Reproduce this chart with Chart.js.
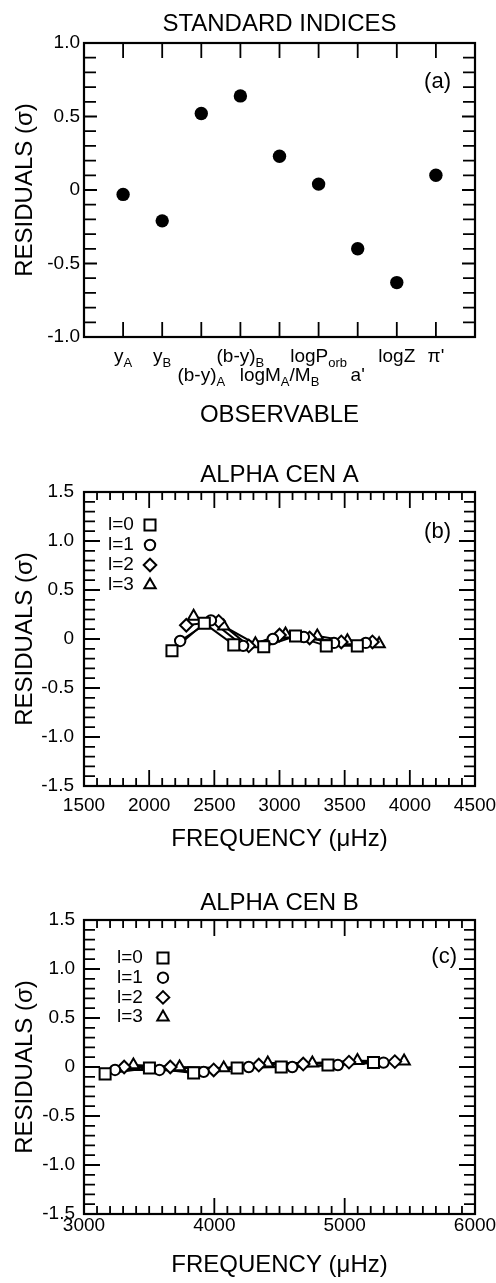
<!DOCTYPE html>
<html><head><meta charset="utf-8">
<script src="https://cdn.jsdelivr.net/npm/chart.js@4.4.1/dist/chart.umd.min.js"></script>
<style>
html,body{margin:0;padding:0;background:#fff;}
.panel{position:absolute;left:0;width:496px;}
canvas{display:block;}
</style></head><body>
<div class="panel" style="top:0;height:440px"><canvas id="ca" width="496" height="440"></canvas></div>
<div class="panel" style="top:440px;height:420px"><canvas id="cb" width="496" height="420"></canvas></div>
<div class="panel" style="top:860px;height:423px"><canvas id="cc" width="496" height="423"></canvas></div>
<script>
// ---------------- DATA ----------------
// Panel (a): standard indices
const observables = ['y_A', 'y_B', '(b-y)_A', '(b-y)_B', 'logM_A/M_B', 'logP_{orb}', "a'", 'logZ', "\u03c0'"];
const standardResiduals = [-0.03, -0.21, 0.52, 0.64, 0.23, 0.04, -0.40, -0.63, 0.10];

// Degree labels
const degreeLabels = ['l=0', 'l=1', 'l=2', 'l=3'];

// Panel (b): Alpha Cen A  (frequency in microHz, residual in sigma)
const freqA_l0 = [2175, 2423, 2649, 2879, 3123, 3359, 3597];
const resA_l0  = [-0.12, 0.16, -0.06, -0.08, 0.03, -0.07, -0.07];
const freqA_l1 = [2238, 2474, 2721, 2949, 3187, 3418, 3662];
const resA_l1  = [-0.02, 0.19, -0.07, 0.00, 0.02, -0.04, -0.04];
const freqA_l2 = [2285, 2533, 2764, 3000, 3231, 3474, 3713];
const resA_l2  = [0.14, 0.18, -0.07, 0.04, 0.01, -0.03, -0.03];
const freqA_l3 = [2341, 2572, 2815, 3046, 3290, 3521, 3764];
const resA_l3  = [0.23, 0.13, -0.05, 0.05, 0.03, -0.02, -0.05];

// Panel (c): Alpha Cen B
const freqB_l0 = [3162, 3502, 3841, 4175, 4513, 4872, 5221];
const resB_l0  = [-0.07, -0.01, -0.06, -0.01, 0.00, 0.02, 0.045];
const freqB_l1 = [3238, 3579, 3918, 4264, 4598, 4948, 5298];
const resB_l1  = [-0.03, -0.03, -0.05, 0.00, 0.00, 0.02, 0.045];
const freqB_l2 = [3308, 3662, 3995, 4341, 4682, 5033, 5385];
const resB_l2  = [0.00, 0.00, -0.03, 0.02, 0.03, 0.05, 0.055];
const freqB_l3 = [3379, 3733, 4072, 4410, 4752, 5098, 5456];
const resB_l3  = [0.02, 0.00, -0.01, 0.04, 0.04, 0.065, 0.06];

// ---------------- STYLE ----------------
const FONT = '"Liberation Sans", Arial, Helvetica, sans-serif';
Chart.defaults.font.family = FONT;
Chart.defaults.color = '#000';
const TITLE_SIZE = 24, TICK_SIZE = 19;
const MARK_BW = 2;
const markerStyles = [
  {style: 'rect', r: 7.8},
  {style: 'circle', r: 5.2},
  {style: 'rectRot', r: 6.3},
  {style: 'triangle', r: 6.6}
];

function makeTicks(min, max, step, majorEvery, minLen, majLen) {
  const out = [];
  const n0 = Math.round(min / step), n1 = Math.round(max / step);
  for (let i = n0; i <= n1; i++) out.push({v: i * step, len: (i % majorEvery === 0) ? majLen : minLen});
  return out;
}

function drawShape(ctx, style, r, x, y) {
  ctx.beginPath();
  if (style === 'circle') ctx.arc(x, y, r, 0, Math.PI * 2);
  else if (style === 'rect') { const s = Math.SQRT1_2 * r; ctx.rect(x - s, y - s, 2 * s, 2 * s); }
  else if (style === 'rectRot') { ctx.moveTo(x - r, y); ctx.lineTo(x, y - r); ctx.lineTo(x + r, y); ctx.lineTo(x, y + r); ctx.closePath(); }
  else if (style === 'triangle') { ctx.moveTo(x, y - r); ctx.lineTo(x + 0.866 * r, y + 0.5 * r); ctx.lineTo(x - 0.866 * r, y + 0.5 * r); ctx.closePath(); }
  ctx.fill(); ctx.stroke();
}

// frame + inward ticks + panel tag + optional legend
const framePlugin = {
  id: 'frame',
  afterDatasetsDraw(chart, args, o) {
    const {ctx, chartArea: a} = chart;
    const xs = chart.scales.x, ys = chart.scales.y;
    ctx.save();
    ctx.strokeStyle = '#000';
    ctx.lineWidth = 1.8;
    ctx.beginPath();
    o.xTicks.forEach(t => {
      const px = xs.getPixelForValue(t.v);
      ctx.moveTo(px, a.top); ctx.lineTo(px, a.top + t.len);
      ctx.moveTo(px, a.bottom); ctx.lineTo(px, a.bottom - t.len);
    });
    o.yTicks.forEach(t => {
      const py = ys.getPixelForValue(t.v);
      ctx.moveTo(a.left, py); ctx.lineTo(a.left + t.len, py);
      ctx.moveTo(a.right, py); ctx.lineTo(a.right - t.len, py);
    });
    ctx.stroke();
    ctx.lineWidth = 2.2;
    ctx.strokeRect(a.left, a.top, a.right - a.left, a.bottom - a.top);
    // panel tag
    ctx.fillStyle = '#000';
    ctx.font = '22px ' + FONT;
    ctx.textAlign = 'right';
    ctx.textBaseline = 'middle';
    ctx.fillText(o.tag, a.right - o.tagDx, a.top + o.tagDy);
    // legend
    if (o.legend) {
      const L = o.legend;
      let k = 0;
      chart.data.datasets.forEach(ds => {
        if (ds.legendSkip) return;
        const y = a.top + L.dy + k * L.gap;
        ctx.fillStyle = '#000';
        ctx.font = '19px ' + FONT;
        ctx.textAlign = 'left';
        ctx.textBaseline = 'middle';
        ctx.fillText(ds.label, a.left + L.textDx, y);
        ctx.fillStyle = '#fff';
        ctx.strokeStyle = '#000';
        ctx.lineWidth = MARK_BW;
        drawShape(ctx, ds.pointStyle, ds.pointRadius, a.left + L.symDx, y);
        k++;
      });
    }
    ctx.restore();
  }
};

function parseSub(s) {
  const segs = []; let i = 0, buf = '';
  while (i < s.length) {
    if (s[i] === '_') {
      if (buf) { segs.push({t: buf, sub: false}); buf = ''; }
      if (s[i + 1] === '{') { const j = s.indexOf('}', i); segs.push({t: s.slice(i + 2, j), sub: true}); i = j + 1; }
      else { segs.push({t: s[i + 1], sub: true}); i += 2; }
    } else { buf += s[i]; i++; }
  }
  if (buf) segs.push({t: buf, sub: false});
  return segs;
}

// category labels with subscripts for panel (a)
const obsLabelPlugin = {
  id: 'obsLabels',
  afterDraw(chart, args, o) {
    if (!o.labels) return;
    const {ctx, chartArea: a} = chart;
    const xs = chart.scales.x;
    ctx.save();
    ctx.fillStyle = '#000';
    ctx.textBaseline = 'alphabetic';
    ctx.textAlign = 'left';
    o.labels.forEach((lab, i) => {
      const segs = parseSub(lab);
      let w = 0;
      segs.forEach(s => { ctx.font = (s.sub ? o.subSize : o.size) + 'px ' + FONT; s.w = ctx.measureText(s.t).width; w += s.w; });
      let x = xs.getPixelForValue(i + 1) - w / 2;
      const yb = a.bottom + o.baselines[o.rows[i]];
      segs.forEach(s => {
        ctx.font = (s.sub ? o.subSize : o.size) + 'px ' + FONT;
        ctx.fillText(s.t, x, yb + (s.sub ? o.subShift : 0));
        x += s.w;
      });
    });
    ctx.restore();
  }
};

const fmtRes = v => (Math.abs(v) < 1e-9 ? '0' : v.toFixed(1));
const fmtFreq = v => String(Math.round(v));

function yAxis(min, max, pad) {
  return {
    type: 'linear', position: 'left', min, max,
    ticks: {stepSize: 0.5, callback: fmtRes, font: {size: TICK_SIZE}, color: '#000', padding: pad},
    grid: {display: false, drawTicks: false}, border: {display: false},
    title: {display: true, text: 'RESIDUALS (\u03c3)', font: {size: TITLE_SIZE}, color: '#000', padding: {top: 11, bottom: 0}},
    afterFit: s => { s.width = 84; s.paddingTop = 0; s.paddingBottom = 0; }
  };
}
function topAxis(text, h, pt) {
  return {
    type: 'linear', position: 'top', display: true,
    ticks: {display: false}, grid: {display: false, drawTicks: false}, border: {display: false},
    title: {display: true, text, font: {size: TITLE_SIZE}, color: '#000', padding: {top: pt, bottom: 0}},
    afterFit: s => { s.height = h; s.paddingLeft = 0; s.paddingRight = 0; }
  };
}
function bottomAxis(text, min, max, step, showTicks, tickPad, h, pb) {
  return {
    type: 'linear', position: 'bottom', min, max,
    ticks: {display: showTicks, stepSize: step, callback: fmtFreq, font: {size: TICK_SIZE}, color: '#000', padding: tickPad, maxRotation: 0, autoSkip: false},
    grid: {display: false, drawTicks: false}, border: {display: false},
    title: {display: true, text, font: {size: TITLE_SIZE}, color: '#000', padding: {top: 0, bottom: pb}},
    afterFit: s => { s.height = h; s.paddingLeft = 0; s.paddingRight = 0; }
  };
}

function seriesDatasets(freqs, ress) {
  const pts = k => freqs[k].map((x, i) => ({x, y: ress[k][i]}));
  const lines = freqs.map((f, k) => ({
    label: degreeLabels[k], data: pts(k), showLine: true, pointRadius: 0,
    borderColor: '#000', borderWidth: 2, order: 2, legendSkip: true
  }));
  const marks = freqs.map((f, k) => ({
    label: degreeLabels[k], data: pts(k), showLine: false,
    pointStyle: markerStyles[k].style, pointRadius: markerStyles[k].r,
    pointBorderWidth: MARK_BW, pointBackgroundColor: '#fff', pointBorderColor: '#000', order: 1
  }));
  return lines.concat(marks);
}

const common = {responsive: false, animation: false, events: []};

// ---------------- PANEL (a) ----------------
new Chart(document.getElementById('ca'), {
  type: 'scatter',
  data: {datasets: [{
    label: 'residuals',
    data: standardResiduals.map((v, i) => ({x: i + 1, y: v})),
    pointRadius: 6.7, pointBorderWidth: 0, pointBackgroundColor: '#000', pointStyle: 'circle'
  }]},
  options: Object.assign({}, common, {
    layout: {padding: {left: 0, right: 21, top: 0, bottom: 0}},
    plugins: {
      legend: {display: false}, tooltip: {enabled: false},
      frame: {xTicks: standardResiduals.map((v, i) => ({v: i + 1, len: 15})), yTicks: makeTicks(-1, 1, 0.1, 5, 12, 13), tag: '(a)', tagDx: 24, tagDy: 39},
      obsLabels: {labels: observables, rows: [0, 0, 1, 0, 1, 0, 1, 0, 0], baselines: [25, 44], size: 19, subSize: 13, subShift: 5}
    },
    scales: {
      x: bottomAxis('OBSERVABLE', 0, 10, 1, false, 0, 103, 10),
      x2: topAxis('STANDARD INDICES', 43, 10),
      y: yAxis(-1, 1, 4)
    }
  }),
  plugins: [framePlugin, obsLabelPlugin]
});

// ---------------- PANEL (b) ----------------
new Chart(document.getElementById('cb'), {
  type: 'scatter',
  data: {datasets: seriesDatasets([freqA_l0, freqA_l1, freqA_l2, freqA_l3], [resA_l0, resA_l1, resA_l2, resA_l3])},
  options: Object.assign({}, common, {
    layout: {padding: {left: 0, right: 21, top: 0, bottom: 0}},
    plugins: {
      legend: {display: false}, tooltip: {enabled: false},
      frame: {xTicks: makeTicks(1500, 4500, 100, 5, 8, 16), yTicks: makeTicks(-1.5, 1.5, 0.1, 5, 11, 16), tag: '(b)', tagDx: 24, tagDy: 40,
              legend: {textDx: 24, symDx: 66, dy: 33, gap: 20}}
    },
    scales: {
      x: bottomAxis('FREQUENCY (\u03bcHz)', 1500, 4500, 500, true, 8, 74, 6),
      x2: topAxis('ALPHA CEN A', 52, 21),
      y: yAxis(-1.5, 1.5, 10)
    }
  }),
  plugins: [framePlugin]
});

// ---------------- PANEL (c) ----------------
new Chart(document.getElementById('cc'), {
  type: 'scatter',
  data: {datasets: seriesDatasets([freqB_l0, freqB_l1, freqB_l2, freqB_l3], [resB_l0, resB_l1, resB_l2, resB_l3])},
  options: Object.assign({}, common, {
    layout: {padding: {left: 0, right: 21, top: 0, bottom: 0}},
    plugins: {
      legend: {display: false}, tooltip: {enabled: false},
      frame: {xTicks: makeTicks(3000, 6000, 100, 10, 8, 16), yTicks: makeTicks(-1.5, 1.5, 0.1, 5, 11, 16), tag: '(c)', tagDx: 18, tagDy: 37,
              legend: {textDx: 33, symDx: 79, dy: 38, gap: 19.7}}
    },
    scales: {
      x: bottomAxis('FREQUENCY (\u03bcHz)', 3000, 6000, 1000, true, 0, 69, 3),
      x2: topAxis('ALPHA CEN B', 60, 29),
      y: yAxis(-1.5, 1.5, 9)
    }
  }),
  plugins: [framePlugin]
});
</script>
</body></html>
